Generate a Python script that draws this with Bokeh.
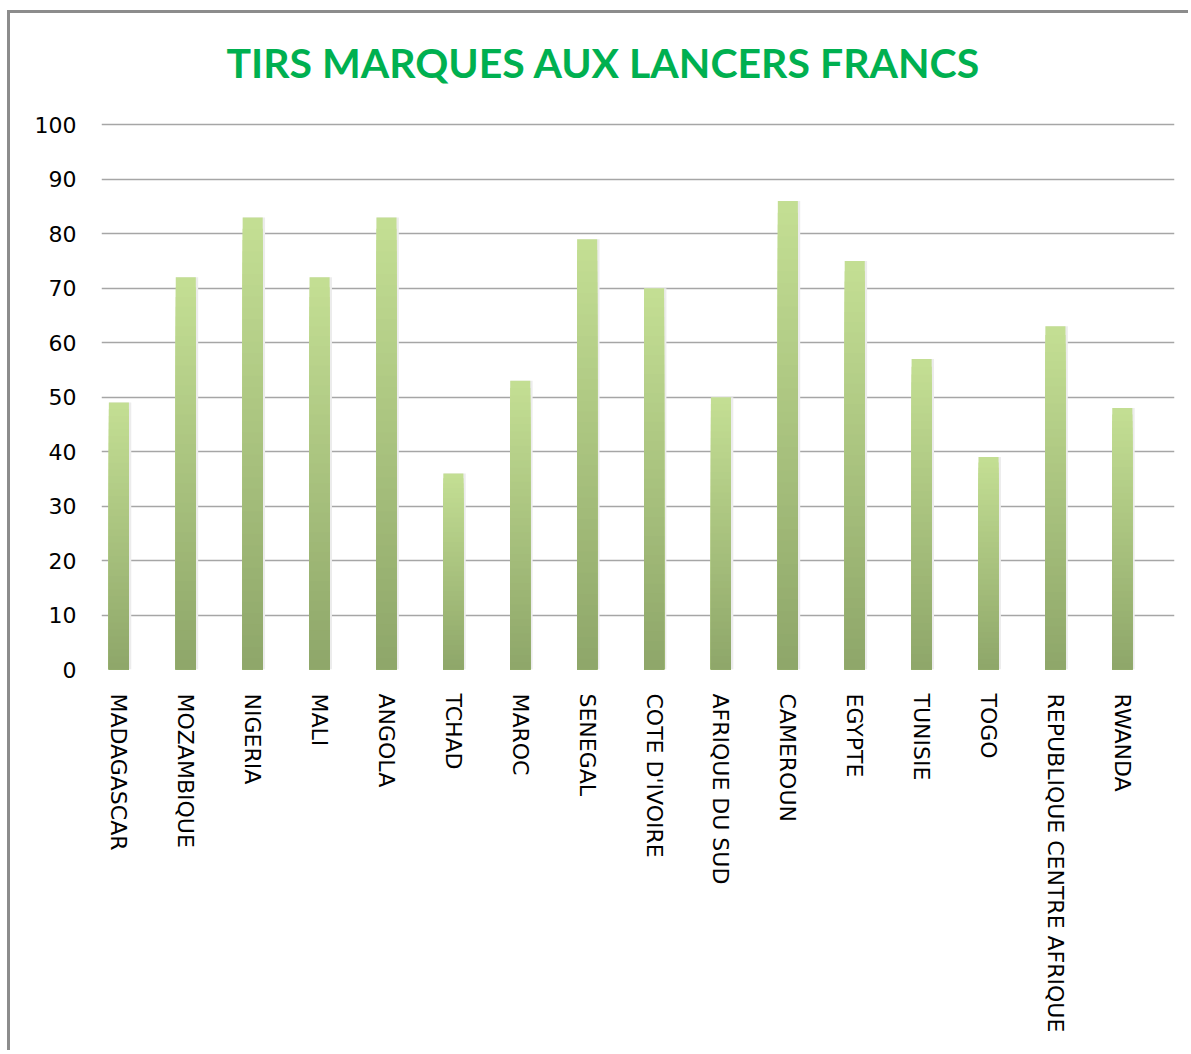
import numpy as np
from bokeh.plotting import figure
from bokeh.models import ColumnDataSource, Range1d, FixedTicker, Label
from bokeh.embed import file_html
from bokeh.resources import INLINE

countries = ["MADAGASCAR", "MOZAMBIQUE", "NIGERIA", "MALI", "ANGOLA", "TCHAD", "MAROC",
             "SENEGAL", "COTE D'IVOIRE", "AFRIQUE DU SUD", "CAMEROUN", "EGYPTE", "TUNISIE",
             "TOGO", "REPUBLIQUE CENTRE AFRIQUE", "RWANDA"]
values = [49, 72, 83, 72, 83, 36, 53, 79, 70, 50, 86, 75, 57, 39, 63, 48]
y_ticks = [0, 10, 20, 30, 40, 50, 60, 70, 80, 90, 100]
title_text = "TIRS MARQUES AUX LANCERS FRANCS"

# gradient styling of bars (light top -> dark bottom): nested bars from 0,
# tallest (lightest) first, successively shorter & darker on top
top_rgb = np.array([196, 223, 148])
bot_rgb = np.array([142, 166, 105])
N = 40
xs, tops, colors = [], [], []
for k in range(N):
    frac = 1 - k / N
    t = 1 - (k + 0.5) / N
    c = bot_rgb + (top_rgb - bot_rgb) * t
    col = "#%02x%02x%02x" % tuple(int(round(a)) for a in c)
    for i, v in enumerate(values):
        xs.append(i)
        tops.append(v * frac)
        colors.append(col)
src = ColumnDataSource(dict(x=xs, top=tops, color=colors))
shadow = ColumnDataSource(dict(x=[i + 0.02 for i in range(len(values))], top=values))

# frame extends above the 100 line so the title can sit inside it
p = figure(width=1181, height=1040, output_backend="svg", toolbar_location=None,
           x_range=Range1d(-0.26, 15.78), y_range=Range1d(0, 118.6),
           min_border_left=91, min_border_right=17, min_border_top=10, min_border_bottom=384)
p.styles = {"border-left": "3px solid #8c8c8c", "border-top": "3px solid #8c8c8c",
            "margin-top": "10px", "margin-left": "7px"}

p.add_layout(Label(x=1.608, y=111.4, text=title_text, text_align="left", text_baseline="alphabetic",
                   text_font="Lato", text_font_size="41px", text_font_style="bold",
                   text_color="#00b050"))

p.vbar(x="x", width=0.33, top="top", bottom=0, source=shadow, fill_color="#ececec", line_color=None)
p.vbar(x="x", width=0.3, bottom=0, top="top", source=src, fill_color="color", line_color=None)

p.outline_line_color = None
p.background_fill_color = "white"
p.border_fill_color = "white"

p.xgrid.grid_line_color = None
p.ygrid.grid_line_color = "#a6a6a6"
p.ygrid.grid_line_width = 1.5
p.ygrid.ticker = FixedTicker(ticks=y_ticks)
p.yaxis.ticker = FixedTicker(ticks=y_ticks)
p.xaxis.ticker = FixedTicker(ticks=list(range(len(countries))))
p.xaxis.major_label_overrides = {i: c for i, c in enumerate(countries)}
p.xaxis.major_label_orientation = "vertical"

for ax in (p.xaxis, p.yaxis):
    ax.axis_line_color = None
    ax.major_tick_line_color = None
    ax.minor_tick_line_color = None
    ax.major_label_text_font = "DejaVu Sans"
    ax.major_label_text_font_size = "22px"
    ax.major_label_text_color = "black"
p.yaxis.major_label_standoff = 19
p.xaxis.major_label_standoff = 18
p.ygrid.level = "underlay"

open("out.html", "w").write(file_html(p, INLINE))
